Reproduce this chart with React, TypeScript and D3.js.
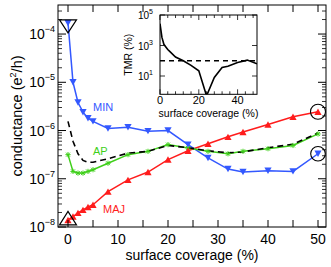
import React from "react";
import * as d3 from "d3";

const coverage = [0, 1, 2, 3, 4, 5, 8, 12, 16, 20, 24, 28, 32, 35, 40, 45, 50];
const minValues = [1.7e-4, 1.0e-5, 3.8e-6, 2.4e-6, 1.8e-6, 1.55e-6, 1.1e-6, 1.17e-6, 9.7e-7, 1.0e-6, 5.1e-7, 2.7e-7, 1.59e-7, 1.38e-7, 1.47e-7, 1.42e-7, 3.3e-7];
const majValues = [1.4e-8, 1.65e-8, 1.96e-8, 2.26e-8, 2.6e-8, 2.9e-8, 5.4e-8, 9.5e-8, 1.38e-7, 2.5e-7, 3.8e-7, 5.3e-7, 7.4e-7, 9.3e-7, 1.33e-6, 1.93e-6, 2.45e-6];
const apValues = [3.16e-7, 1.42e-7, 1.31e-7, 1.31e-7, 1.42e-7, 1.54e-7, 2.1e-7, 3.16e-7, 3.7e-7, 5.1e-7, 4.36e-7, 3.7e-7, 3.3e-7, 3.7e-7, 4.2e-7, 4.9e-7, 8.5e-7];
const meanValues = [1.55e-6, 6.0e-7, 3.3e-7, 2.4e-7, 2.2e-7, 2.2e-7, 2.6e-7, 3.4e-7, 3.7e-7, 4.9e-7, 4.4e-7, 3.8e-7, 3.45e-7, 3.6e-7, 4.4e-7, 5.2e-7, 8.9e-7];
const tmrValues = [2.7e4, 3400, 1200, 800, 540, 410, 175, 100, 50, 22, 0.5, 8, 36, 44, 76, 110, 63];
const tmrReference = 100;

const xTicks = [0, 10, 20, 30, 40, 50];
const yDecades = [-8, -7, -6, -5, -4];
const insetXTicks = [0, 20, 40];
const insetYDecades = [1, 3, 5];

const BLUE = "#3358ff";
const RED = "#ff1c1c";
const GREEN = "#3fcf1a";
const FONT = "'Liberation Sans', Arial, Helvetica, sans-serif";

export default function App() {
  const L = 58, R = 326, T = 5, B = 227;
  const x = d3.scaleLinear().domain([-2, 51.6]).range([L, R]);
  const y = d3.scaleLog().domain([1e-8, 4e-4]).range([B, T]);

  const line = (vals: number[]) =>
    d3.line<number>().x((_, i) => x(coverage[i])).y((v) => y(v))(vals) || "";

  const minor: number[] = [];
  for (let d = -8; d <= -4; d++) {
    for (let m = 2; m <= 9; m++) {
      const v = m * Math.pow(10, d);
      if (v < 4e-4) minor.push(v);
    }
  }
  const xMinor = d3.range(0, 51, 5);

  const iL = 160, iR = 257, iT = 15, iB = 94.3;
  const ix = d3.scaleLinear().domain([0, 50]).range([iL, iR]);
  const iy = d3.scaleLog().domain([Math.pow(10, -0.2), 1e5]).range([iB, iT]);
  const tmrLine = d3.line<number>().x((_, i) => ix(coverage[i])).y((v) => iy(v))(tmrValues) || "";
  const iMinor = d3.range(0, 50, 4);

  const downTri = (cx: number, cy: number, w = 3.6, h = 3.2) =>
    `M${cx - w},${cy - h}L${cx + w},${cy - h}L${cx},${cy + h}Z`;
  const upTri = (cx: number, cy: number, w = 3.6, h = 3.2) =>
    `M${cx - w},${cy + h}L${cx + w},${cy + h}L${cx},${cy - h}Z`;
  const star = (cx: number, cy: number, r = 2.6) =>
    `M${cx - r},${cy}L${cx + r},${cy}M${cx},${cy - r}L${cx},${cy + r}M${cx - r * 0.75},${cy - r * 0.75}L${cx + r * 0.75},${cy + r * 0.75}M${cx - r * 0.75},${cy + r * 0.75}L${cx + r * 0.75},${cy - r * 0.75}`;

  const last = coverage.length - 1;
  const bx0 = x(coverage[0]);
  const byMin = y(minValues[0]);
  const byMaj = y(majValues[0]);

  return (
    <svg width={331} height={267} style={{ position: "absolute", left: 0, top: 0, background: "#fff" }} fontFamily={FONT}>
      <defs>
        <clipPath id="mainclip"><rect x={L} y={T} width={R - L} height={B - T} /></clipPath>
        <clipPath id="insetclip"><rect x={iL} y={iT} width={iR - iL} height={iB - iT} /></clipPath>
      </defs>

      <g clipPath="url(#mainclip)">
        <path d={line(majValues)} fill="none" stroke={RED} strokeWidth={1.5} />
        <path d={line(minValues)} fill="none" stroke={BLUE} strokeWidth={1.5} />
        <path d={line(apValues)} fill="none" stroke={GREEN} strokeWidth={1.5} />
        <path d={line(meanValues)} fill="none" stroke="#000" strokeWidth={1.6} strokeDasharray="6,4" />
        {apValues.map((v, i) => (
          <path key={"a" + i} d={star(x(coverage[i]), y(v))} stroke={GREEN} strokeWidth={1} fill="none" />
        ))}
        {minValues.map((v, i) => (
          <path key={"m" + i} d={downTri(x(coverage[i]), y(v))} fill={BLUE} />
        ))}
        {majValues.map((v, i) => (
          <path key={"j" + i} d={upTri(x(coverage[i]), y(v))} fill={RED} />
        ))}
      </g>

      <path d={`M${bx0 - 8.5},${byMin - 3}L${bx0 + 8.5},${byMin - 3}L${bx0},${byMin + 10}Z`} fill="none" stroke="#000" strokeWidth={1.2} />
      <path d={`M${bx0 - 8.5},${byMaj + 5}L${bx0 + 8.5},${byMaj + 5}L${bx0},${byMaj - 8.5}Z`} fill="none" stroke="#000" strokeWidth={1.2} />
      <circle cx={x(coverage[last])} cy={y(majValues[last])} r={7.5} fill="none" stroke="#000" strokeWidth={1.1} />
      <circle cx={x(coverage[last])} cy={y(minValues[last])} r={7.3} fill="none" stroke="#000" strokeWidth={1.1} />

      <text x={93} y={111} fontSize={11} fill={BLUE}>MIN</text>
      <text x={93} y={155} fontSize={11} fill={GREEN}>AP</text>
      <text x={103} y={213} fontSize={11} fill={RED}>MAJ</text>

      <rect x={L} y={T} width={R - L} height={B - T} fill="none" stroke="#000" strokeWidth={1} />
      {xMinor.map((t) => (
        <g key={"xt" + t} stroke="#000" strokeWidth={1}>
          <line x1={x(t)} x2={x(t)} y1={B} y2={B - 7} />
          <line x1={x(t)} x2={x(t)} y1={T} y2={T + 7} />
        </g>
      ))}
      {yDecades.map((d) => (
        <g key={"yt" + d} stroke="#000" strokeWidth={1}>
          <line x1={L} x2={L + 8} y1={y(Math.pow(10, d))} y2={y(Math.pow(10, d))} />
          <line x1={R} x2={R - 8} y1={y(Math.pow(10, d))} y2={y(Math.pow(10, d))} />
        </g>
      ))}
      {minor.map((v, i) => (
        <g key={"ym" + i} stroke="#000" strokeWidth={0.8}>
          <line x1={L} x2={L + 4} y1={y(v)} y2={y(v)} />
          <line x1={R} x2={R - 4} y1={y(v)} y2={y(v)} />
        </g>
      ))}
      {xTicks.map((t) => (
        <text key={"xl" + t} x={x(t)} y={244} fontSize={14} textAnchor="middle">{t}</text>
      ))}
      {yDecades.map((d) => (
        <text key={"yl" + d} x={55} y={y(Math.pow(10, d)) + 5} fontSize={14} textAnchor="end">
          10<tspan fontSize={9} dy={-7}>{"\u2212" + Math.abs(d)}</tspan>
        </text>
      ))}
      <text x={(L + R) / 2} y={260} fontSize={14} textAnchor="middle">surface coverage (%)</text>
      <text transform={`translate(22,${(T + B) / 2}) rotate(-90)`} fontSize={14.5} textAnchor="middle">
        conductance (e<tspan fontSize={9} dy={-6}>2</tspan><tspan dy={6}>/h)</tspan>
      </text>

      <rect x={iL} y={iT} width={iR - iL} height={iB - iT} fill="#fff" stroke="none" />
      <line x1={iL} x2={iR} y1={iy(tmrReference)} y2={iy(tmrReference)} stroke="#000" strokeWidth={1.4} strokeDasharray="5,4" />
      <g clipPath="url(#insetclip)">
        <path d={tmrLine} fill="none" stroke="#000" strokeWidth={1.6} />
      </g>
      <rect x={iL} y={iT} width={iR - iL} height={iB - iT} fill="none" stroke="#000" strokeWidth={1} />
      {iMinor.map((t) => (
        <g key={"ix" + t} stroke="#000" strokeWidth={0.8}>
          <line x1={ix(t)} x2={ix(t)} y1={iB} y2={iB - (t % 20 === 0 ? 5 : 3)} />
          <line x1={ix(t)} x2={ix(t)} y1={iT} y2={iT + (t % 20 === 0 ? 5 : 3)} />
        </g>
      ))}
      {insetYDecades.map((d) => (
        <g key={"iy" + d} stroke="#000" strokeWidth={0.8}>
          <line x1={iL} x2={iL + 5} y1={iy(Math.pow(10, d))} y2={iy(Math.pow(10, d))} />
          <line x1={iR} x2={iR - 5} y1={iy(Math.pow(10, d))} y2={iy(Math.pow(10, d))} />
        </g>
      ))}
      {insetXTicks.map((t) => (
        <text key={"ixl" + t} x={ix(t)} y={104} fontSize={11} textAnchor="middle">{t}</text>
      ))}
      {insetYDecades.map((d) => (
        <text key={"iyl" + d} x={153} y={iy(Math.pow(10, d)) + 4} fontSize={10} textAnchor="end">
          10<tspan fontSize={7} dy={-5}>{d}</tspan>
        </text>
      ))}
      <text x={(iL + iR) / 2} y={117} fontSize={10.5} textAnchor="middle">surface coverage (%)</text>
      <text transform={`translate(132,${(iT + iB) / 2}) rotate(-90)`} fontSize={10.5} textAnchor="middle">TMR (%)</text>
    </svg>
  );
}
